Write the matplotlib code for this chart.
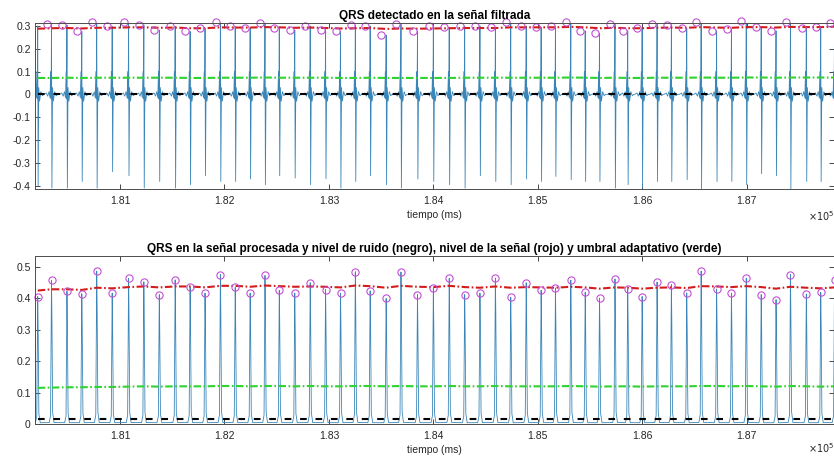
import numpy as np
import matplotlib
matplotlib.use("Agg")
import matplotlib.pyplot as plt

plt.rcParams["font.family"] = ["Liberation Sans", "DejaVu Sans"]

# ── detected beats (ms) ────────────────────────────────────────
beat_ms = [
    180212, 180344, 180492, 180634, 180777, 180925, 181082, 181228, 181376,
    181528, 181671, 181814, 181961, 182103, 182246, 182388, 182525, 182673,
    182821, 182968, 183111, 183253, 183395, 183548, 183690, 183848, 184000,
    184152, 184300, 184446, 184594, 184741, 184889, 185032, 185169, 185316,
    185454, 185591, 185739, 185861, 185999, 186142, 186279, 186426, 186564,
    186712, 186854, 186996, 187139, 187281, 187419, 187571, 187709, 187841,
]
# R amplitude / S amplitude on the band-pass filtered signal
filt_peak = [
    0.300, 0.308, 0.304, 0.276, 0.319, 0.298, 0.316, 0.305, 0.282, 0.298,
    0.276, 0.290, 0.319, 0.298, 0.293, 0.313, 0.293, 0.282, 0.300, 0.283,
    0.277, 0.303, 0.300, 0.260, 0.308, 0.277, 0.300, 0.294, 0.300, 0.300,
    0.294, 0.317, 0.300, 0.294, 0.298, 0.316, 0.279, 0.267, 0.308, 0.279,
    0.290, 0.308, 0.305, 0.290, 0.316, 0.279, 0.286, 0.320, 0.294, 0.279,
    0.316, 0.290, 0.294, 0.313,
]
filt_trough = [
    -0.400, -0.411, -0.411, -0.382, -0.411, -0.339, -0.357, -0.411, -0.382,
    -0.411, -0.396, -0.357, -0.382, -0.382, -0.371, -0.396, -0.357, -0.367,
    -0.396, -0.370, -0.411, -0.382, -0.357, -0.396, -0.411, -0.371, -0.382,
    -0.396, -0.411, -0.357, -0.382, -0.396, -0.371, -0.382, -0.360, -0.374,
    -0.382, -0.382, -0.411, -0.396, -0.411, -0.382, -0.382, -0.374, -0.415,
    -0.382, -0.382, -0.396, -0.348, -0.357, -0.415, -0.382, -0.382, -0.380,
]
# detection on the filtered signal lands slightly before the MVI peak
filt_det_delay_ms = 46

# moving-window-integration peaks
mvi_peak = [
    0.406, 0.457, 0.423, 0.415, 0.487, 0.417, 0.464, 0.453, 0.412, 0.459,
    0.435, 0.417, 0.476, 0.435, 0.417, 0.473, 0.426, 0.417, 0.450, 0.428,
    0.417, 0.485, 0.424, 0.400, 0.484, 0.412, 0.434, 0.464, 0.412, 0.417,
    0.465, 0.404, 0.450, 0.426, 0.433, 0.458, 0.420, 0.401, 0.462, 0.430,
    0.406, 0.452, 0.444, 0.417, 0.487, 0.430, 0.417, 0.465, 0.412, 0.396,
    0.476, 0.414, 0.419, 0.457,
]

# adaptive levels, one value per beat
filt_sig_lvl = [
    0.288, 0.290, 0.291, 0.289, 0.292, 0.292, 0.294, 0.294, 0.292, 0.293,
    0.290, 0.290, 0.294, 0.293, 0.293, 0.295, 0.294, 0.292, 0.293, 0.291,
    0.289, 0.290, 0.291, 0.287, 0.289, 0.288, 0.289, 0.290, 0.291, 0.291,
    0.291, 0.294, 0.294, 0.294, 0.294, 0.296, 0.294, 0.290, 0.292, 0.290,
    0.290, 0.292, 0.293, 0.292, 0.295, 0.293, 0.292, 0.295, 0.295, 0.293,
    0.296, 0.295, 0.295, 0.297,
]
filt_thr = [
    0.072, 0.072, 0.073, 0.072, 0.073, 0.073, 0.073, 0.073, 0.073, 0.073,
    0.072, 0.072, 0.073, 0.073, 0.073, 0.074, 0.073, 0.073, 0.073, 0.073,
    0.072, 0.072, 0.073, 0.072, 0.072, 0.072, 0.072, 0.072, 0.073, 0.073,
    0.073, 0.073, 0.073, 0.073, 0.073, 0.074, 0.073, 0.072, 0.073, 0.072,
    0.072, 0.073, 0.073, 0.073, 0.074, 0.073, 0.073, 0.074, 0.074, 0.073,
    0.074, 0.074, 0.074, 0.074,
]
filt_noise_lvl = [0.001] * len(beat_ms)

mvi_sig_lvl = [
    0.425, 0.429, 0.429, 0.427, 0.434, 0.432, 0.436, 0.438, 0.435, 0.438,
    0.438, 0.435, 0.440, 0.440, 0.437, 0.441, 0.439, 0.437, 0.438, 0.437,
    0.435, 0.441, 0.439, 0.434, 0.440, 0.437, 0.436, 0.440, 0.436, 0.434,
    0.438, 0.434, 0.436, 0.435, 0.434, 0.437, 0.435, 0.431, 0.435, 0.434,
    0.431, 0.434, 0.435, 0.433, 0.439, 0.438, 0.436, 0.439, 0.436, 0.431,
    0.437, 0.434, 0.432, 0.435,
]
mvi_thr = [
    0.115, 0.116, 0.117, 0.117, 0.118, 0.118, 0.119, 0.120, 0.119, 0.120,
    0.120, 0.120, 0.121, 0.121, 0.120, 0.121, 0.121, 0.120, 0.121, 0.120,
    0.120, 0.121, 0.121, 0.120, 0.121, 0.120, 0.120, 0.121, 0.120, 0.120,
    0.121, 0.120, 0.120, 0.120, 0.120, 0.121, 0.120, 0.119, 0.120, 0.120,
    0.119, 0.120, 0.120, 0.120, 0.121, 0.121, 0.120, 0.121, 0.120, 0.119,
    0.121, 0.120, 0.119, 0.120,
]
mvi_noise_lvl = [0.015] * len(beat_ms)

# QRS shape on the filtered trace (offsets in ms around each beat)
qrs_pre_ms = [-70, -50, -36, -24, -14, -8, -4]
qrs_pre = [0.0, 0.006, -0.008, 0.012, -0.015, 0.10, -0.02]
qrs_drop_ms = 4
qrs_post_ms = [10, 18, 30, 44, 58]
qrs_post = [0.03, -0.03, 0.012, -0.006, 0.0]

# MVI pulse shape, fraction of the pulse peak
mvi_rel_ms = [-22, -9, -3, 0, 4, 11, 24]
mvi_rel = [0.01, 0.06, 0.7, 1.0, 0.75, 0.08, 0.01]

xtick_ms = [181000, 182000, 183000, 184000, 185000, 186000, 187000]
x_range = (180186, 187836)

title_top = "QRS detectado en la señal filtrada"
title_bot = ("QRS en la señal procesada y nivel de ruido (negro), nivel de la "
             "señal (rojo) y umbral adaptativo (verde)")

SIG_COLOR = "#3a86b8"
RED = "#d41c1c"
GREEN = "#2fd22f"
MAG = "#c04fd3"
TXT = "#262626"


def filtered_trace():
    t, y = [], []
    for tb, pk, tr in zip(beat_ms, filt_peak, filt_trough):
        t += [tb + o for o in qrs_pre_ms]
        y += qrs_pre
        t += [tb, tb + qrs_drop_ms]
        y += [pk, tr]
        t += [tb + o for o in qrs_post_ms]
        y += qrs_post
    return np.array(t), np.array(y)


def mvi_trace():
    t, y = [], []
    for tb, pk in zip(beat_ms, mvi_peak):
        t += [tb + o for o in mvi_rel_ms]
        y += [pk * r for r in mvi_rel]
    return np.array(t), np.array(y)


def style_axes(ax, ylim, yticks, height_px, exp_drop_px):
    ax.set_xlim(*x_range)
    ax.set_ylim(*ylim)
    ax.set_xticks(xtick_ms)
    ax.set_xticklabels([f"{v / 1e5:.2f}" for v in xtick_ms])
    ax.set_yticks(yticks)
    ax.set_yticklabels([f"{v:g}" for v in yticks])
    ax.tick_params(direction="in", length=3.5, width=0.6, top=True,
                   right=True, labelsize=7.5, colors=TXT)
    ax.tick_params(axis="x", pad=5)
    ax.tick_params(axis="y", pad=3)
    for sp in ax.spines.values():
        sp.set_color("#4d4d4d")
        sp.set_linewidth(0.7)
    ax.set_xlabel("tiempo (ms)", fontsize=7.5, color=TXT, labelpad=3)
    # exponent of the x axis, bottom-right corner
    ax.text(1.0, -exp_drop_px / height_px, r"$\times10^{5}$",
            transform=ax.transAxes, fontsize=7, color=TXT,
            ha="right", va="center")


def draw_levels(ax, sig, thr, noise):
    ax.plot(beat_ms, noise, color="black", lw=1.5, dashes=(3.2, 4.2))
    ax.plot(beat_ms, sig, color=RED, lw=1.5, dashes=(3.6, 1.2, 0.8, 1.2))
    ax.plot(beat_ms, thr, color=GREEN, lw=1.5, dashes=(3.6, 1.2, 0.8, 1.2))


fig = plt.figure(figsize=(8.34, 4.57), dpi=100)
W, H = 834, 457
ax1 = fig.add_axes([35 / W, 1 - 189 / H, 799 / W, 166 / H])
ax2 = fig.add_axes([35 / W, 1 - 424 / H, 799 / W, 168 / H])

# filtered signal
tf, yf = filtered_trace()
ax1.plot(tf, yf, color=SIG_COLOR, lw=0.6)
draw_levels(ax1, filt_sig_lvl, filt_thr, filt_noise_lvl)
det_t = np.array(beat_ms) - filt_det_delay_ms
det_a = np.array(filt_peak)
keep = (det_t >= x_range[0]) & (det_t <= x_range[1])
ax1.plot(det_t[keep], det_a[keep], "o", ms=5.2, mfc="none", mec=MAG,
         mew=0.8, clip_on=False)
style_axes(ax1, (-0.415, 0.313), [-0.4, -0.3, -0.2, -0.1, 0, 0.1, 0.2, 0.3],
           166, 27)
ax1.set_title(title_top, fontsize=8.5, fontweight="bold", pad=3, color="black")

# integrated signal
tm, ym = mvi_trace()
ax2.plot(tm, ym, color=SIG_COLOR, lw=0.6)
draw_levels(ax2, mvi_sig_lvl, mvi_thr, mvi_noise_lvl)
ax2.plot(beat_ms, mvi_peak, "o", ms=5.2, mfc="none", mec=MAG, mew=0.8,
         clip_on=False)
style_axes(ax2, (0, 0.535), [0, 0.1, 0.2, 0.3, 0.4, 0.5], 168, 24)
ax2.set_title(title_bot, fontsize=8.5, fontweight="bold", pad=3, color="black")

fig.savefig("out.png", dpi=100)
